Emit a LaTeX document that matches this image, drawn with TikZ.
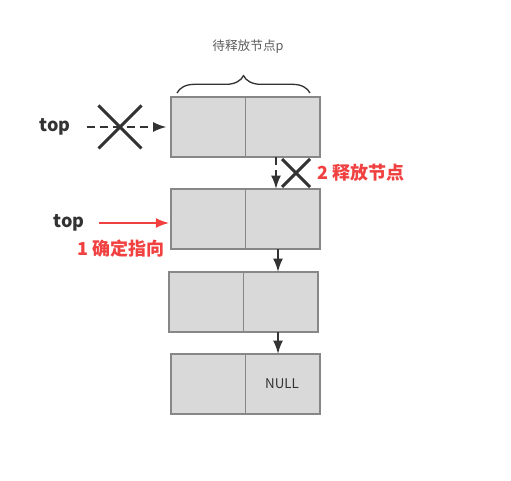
\documentclass[tikz,border=0pt]{standalone}
\usepackage{fontspec}
\setmainfont{Noto Sans CJK SC}
\usepackage{xcolor}
\usetikzlibrary{shapes,arrows,arrows.meta,calc,decorations.pathreplacing,positioning}
\definecolor{darkline}{rgb}{0.2,0.2,0.2}
\definecolor{cellgray}{rgb}{0.85,0.85,0.85}
\definecolor{edgegray}{rgb}{0.53,0.53,0.53}
\definecolor{note}{rgb}{0.94,0.25,0.25}

\begin{document}
\begin{tikzpicture}[x=0.75pt,y=-0.75pt,line width=1.5pt,>={Latex[length=10pt,width=7.5pt]},
  cell/.style={rectangle,draw=edgegray,fill=cellgray,line width=0.75pt,minimum width=55.5pt,minimum height=44.25pt,inner sep=0pt},
  frame/.style={draw=edgegray,line width=1.5pt},
  link/.style={->,draw=darkline},
  gone/.style={cross out,draw=darkline,line width=2.25pt,inner sep=0pt},
  tag/.style={font=\bfseries\fontsize{13.5}{16}\selectfont}]
        \useasboundingbox (0,0) rectangle (511,481);
        %%%%%%%%%%%%%%%%%%%%%%%%%%%cells%%%%%%%%%%%%%%%%%%%%%%
          \node (n1l) at (208,127)   [cell] {};
          \node (n1r) at (282,127)   [cell] {};
          \node (n2l) at (208,219)   [cell] {};
          \node (n2r) at (282,219)   [cell] {};
          \node (n3l) at (206,302)   [cell] {};
          \node (n3r) at (280,302)   [cell] {};
          \node (n4l) at (208,384)   [cell] {};
          \node (n4r) at (282,384)   [cell,text=darkline] {\fontsize{10}{12}\selectfont NULL};
          \foreach \n in {1,...,4}
            \draw[frame] (n\n l.north west) rectangle (n\n r.south east);

          %%%%%%%%%%%%%%%%%%%%%%%%%%%brace%%%%%%%%%%%%%%%%%%%%%%
          \coordinate (bl) at (177,93);
          \coordinate (br) at (310,93);
          \draw[decorate,decoration={brace,amplitude=13pt},line width=1pt,draw=darkline] (bl) -- (br);
          \node (p) at (248,47) [text=darkline!80] {\fontsize{9.5}{11}\selectfont 待释放节点p};

          %%%%%%%%%%%%%%%%%%%%%%%%%%%old top%%%%%%%%%%%%%%%%%%%%%%
          \node (top1) at (55,127) [tag,text=darkline] {top};
          \draw[link,dashed,dash pattern=on 6pt off 4pt,shorten <=8pt,shorten >=3pt] (top1.east) -- (top1.east -| n1l.west);
          \node (x1) at (120,127) [gone,minimum size=30pt] {};

          \draw[link,dashed,dash pattern=on 6pt off 4pt] ([xshift=-4.5pt]n1r.south) -- ([xshift=-4.5pt]n1r.south |- n2r.north);
          \node (x2) at (296,173) [gone,minimum size=18.75pt] {};
          \node (free) at (312,173) [tag,anchor=west,text=note] {2 释放节点};

          %%%%%%%%%%%%%%%%%%%%%%%%%%%new top%%%%%%%%%%%%%%%%%%%%%%
          \node (top2) at (69,223) [tag,text=darkline] {top};
          \draw[link,draw=note,shorten <=7pt,shorten >=1pt] (top2.east) -- (top2.east -| n2l.west);
          \node (aim) at (121,249) [tag,text=note] {1 确定指向};

          %%%%%%%%%%%%%%%%%%%%%%%%%%%next%%%%%%%%%%%%%%%%%%%%%%
          \draw[link] ([xshift=-3pt]n2r.south) -- ([xshift=-3pt]n2r.south |- n3r.north);
          \draw[link] ([xshift=-1.5pt]n3r.south) -- ([xshift=-1.5pt]n3r.south |- n4r.north);
\end{tikzpicture}
\end{document}
